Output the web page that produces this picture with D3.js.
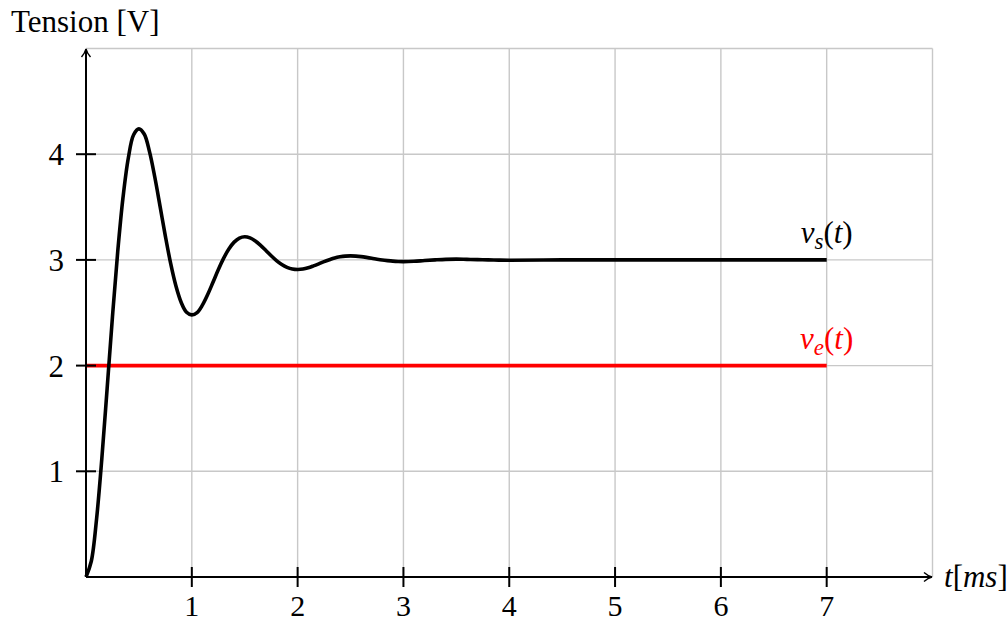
<!DOCTYPE html>
<html>
<head>
<meta charset="utf-8">
<script src="https://cdn.jsdelivr.net/npm/d3@7"></script>
<style>
  html, body { margin: 0; padding: 0; background: #fff; }
  svg { display: block; font-family: "Liberation Serif", "Times New Roman", serif; }
</style>
</head>
<body>
<svg id="chart" width="1008" height="623"></svg>
<script>
// time in ms
const tVals = [0, 0.05, 0.1, 0.15, 0.2, 0.25, 0.3, 0.35, 0.4, 0.45, 0.5, 0.55, 0.6, 0.65, 0.7, 0.75,
  0.8, 0.85, 0.9, 0.95, 1.0, 1.05, 1.1, 1.15, 1.2, 1.25, 1.3, 1.35, 1.4, 1.45, 1.5, 1.55, 1.6, 1.65,
  1.7, 1.75, 1.8, 1.85, 1.9, 1.95, 2.0, 2.05, 2.1, 2.15, 2.2, 2.25, 2.3, 2.35, 2.4, 2.45, 2.5, 2.55,
  2.6, 2.65, 2.7, 2.75, 2.8, 2.85, 2.9, 2.95, 3.0, 3.1, 3.2, 3.3, 3.4, 3.5, 3.6, 3.7, 3.8, 3.9, 4.0,
  4.5, 5.0, 5.5, 6.0, 6.5, 7.0];
// output voltage vs(t)
const vsVals = [0, 0.149, 0.550, 1.124, 1.787, 2.461, 3.080, 3.592, 3.964, 4.184, 4.240, 4.191, 4.024,
  3.784, 3.507, 3.225, 2.967, 2.753, 2.597, 2.505, 2.480, 2.502, 2.572, 2.672, 2.788, 2.906, 3.014,
  3.103, 3.168, 3.207, 3.219, 3.208, 3.179, 3.137, 3.089, 3.039, 2.994, 2.957, 2.930, 2.914, 2.909,
  2.913, 2.925, 2.943, 2.963, 2.984, 3.002, 3.018, 3.029, 3.036, 3.038, 3.036, 3.031, 3.024, 3.016,
  3.007, 2.999, 2.993, 2.988, 2.985, 2.984, 2.987, 2.994, 3.000, 3.005, 3.007, 3.005, 3.003, 3.000,
  2.998, 2.997, 3.0, 3.0, 3.0, 3.0, 3.0, 3.0];
// input voltage ve(t)
const veT = [0, 7];
const veVals = [2, 2];

const xTicks = [1, 2, 3, 4, 5, 6, 7];
const yTicks = [1, 2, 3, 4];
const xGrid = [1, 2, 3, 4, 5, 6, 7, 8];
const yGrid = [1, 2, 3, 4, 5];

const svg = d3.select("#chart");
const x = d3.scaleLinear().domain([0, 8]).range([86, 932.5]);
const y = d3.scaleLinear().domain([0, 5]).range([577, 48.5]);
const fs = 31;

// grid
const grid = svg.append("g").attr("stroke", "#c8c8c8").attr("stroke-width", 1.4);
grid.selectAll(".gx").data(xGrid).join("line")
  .attr("x1", d => x(d)).attr("x2", d => x(d))
  .attr("y1", y(0)).attr("y2", y(5));
grid.selectAll(".gy").data(yGrid).join("line")
  .attr("x1", x(0)).attr("x2", x(8))
  .attr("y1", d => y(d)).attr("y2", d => y(d));

// curves
const line = d3.line().x(d => x(d[0])).y(d => y(d[1])).curve(d3.curveCatmullRom);

svg.append("path")
  .datum(veT.map((t, i) => [t, veVals[i]]))
  .attr("d", d3.line().x(d => x(d[0])).y(d => y(d[1])))
  .attr("fill", "none").attr("stroke", "#ff0000").attr("stroke-width", 3.6);

svg.append("path")
  .datum(tVals.map((t, i) => [t, vsVals[i]]))
  .attr("d", line)
  .attr("fill", "none").attr("stroke", "#000").attr("stroke-width", 3.6)
  .attr("stroke-linejoin", "round");

// axes with arrows
svg.append("defs").append("marker")
  .attr("id", "arrow").attr("viewBox", "0 0 12 12")
  .attr("refX", 10).attr("refY", 6)
  .attr("markerWidth", 12).attr("markerHeight", 12)
  .attr("markerUnits", "userSpaceOnUse")
  .attr("orient", "auto")
  .append("path").attr("d", "M2,1.5 Q6,5 10,6 Q6,7 2,10.5")
  .attr("fill", "none").attr("stroke", "#000").attr("stroke-width", 1.4);

svg.append("line")
  .attr("x1", x(0)).attr("x2", x(8) - 0.5).attr("y1", y(0)).attr("y2", y(0))
  .attr("stroke", "#000").attr("stroke-width", 2).attr("marker-end", "url(#arrow)");
svg.append("line")
  .attr("x1", x(0)).attr("x2", x(0)).attr("y1", y(0)).attr("y2", y(5) + 0.5)
  .attr("stroke", "#000").attr("stroke-width", 2).attr("marker-end", "url(#arrow)");

// ticks
svg.append("g").selectAll("line").data(xTicks).join("line")
  .attr("x1", d => x(d)).attr("x2", d => x(d))
  .attr("y1", y(0) - 10).attr("y2", y(0) + 10)
  .attr("stroke", "#000").attr("stroke-width", 2);
svg.append("g").selectAll("line").data(yTicks).join("line")
  .attr("x1", x(0) - 10).attr("x2", x(0) + 10)
  .attr("y1", d => y(d)).attr("y2", d => y(d))
  .attr("stroke", "#000").attr("stroke-width", 2);

// tick labels
svg.append("g").selectAll("text").data(xTicks).join("text")
  .attr("x", d => x(d)).attr("y", 616)
  .attr("text-anchor", "middle").attr("font-size", 30)
  .text(d => d);
svg.append("g").selectAll("text").data(yTicks).join("text")
  .attr("x", 64).attr("y", d => y(d) + 11)
  .attr("text-anchor", "end").attr("font-size", fs)
  .text(d => d);

// axis titles
svg.append("text").attr("x", 11).attr("y", 32).attr("font-size", fs).text("Tension [V]");

const xl = svg.append("text").attr("x", 944).attr("y", 587).attr("font-size", fs);
xl.append("tspan").attr("font-style", "italic").text("t");
xl.append("tspan").text("[");
xl.append("tspan").attr("font-style", "italic").text("ms");
xl.append("tspan").text("]");

// curve labels
function mathLabel(yv, sub, color) {
  const t = svg.append("text").attr("x", x(7)).attr("y", y(yv) - 17)
    .attr("text-anchor", "middle").attr("font-size", fs).attr("fill", color);
  t.append("tspan").attr("font-style", "italic").text("v");
  t.append("tspan").attr("font-style", "italic").attr("font-size", 23).attr("dy", 6).text(sub);
  t.append("tspan").attr("dy", -6).text("(");
  t.append("tspan").attr("font-style", "italic").text("t");
  t.append("tspan").text(")");
}
mathLabel(3, "s", "#000");
mathLabel(2, "e", "#ff0000");
</script>
</body>
</html>
